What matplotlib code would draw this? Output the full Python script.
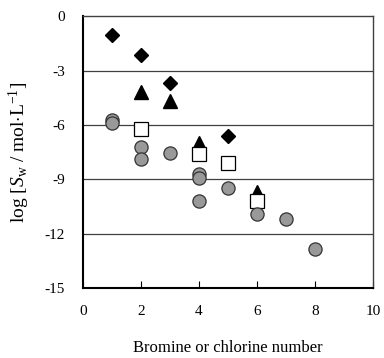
import matplotlib.pyplot as plt

# data
dia_x = [1, 2, 3, 5]
dia_y = [-1.05, -2.15, -3.71, -6.63]

tri_x = [2, 3, 4, 6]
tri_y = [-4.17, -4.69, -7.02, -9.69]

sq_x = [2, 4, 5, 6]
sq_y = [-6.2, -7.58, -8.09, -10.19]

circ_x = [1, 1, 2, 2, 3, 4, 4, 4, 5, 6, 7, 8]
circ_y = [-5.75, -5.92, -7.21, -7.89, -7.52, -8.73, -8.92, -10.19, -9.5, -10.92, -11.21, -12.85]

xticks = [0, 2, 4, 6, 8, 10]
yticks = [0, -3, -6, -9, -12, -15]

plt.rcParams['font.family'] = ['Liberation Serif', 'DejaVu Serif']
plt.rcParams['mathtext.fontset'] = 'custom'
plt.rcParams['mathtext.rm'] = 'Liberation Serif'
plt.rcParams['mathtext.it'] = 'Liberation Serif:italic'

fig = plt.figure(figsize=(3.84, 3.58), dpi=100)
ax = fig.add_axes([0.216, 0.195, 0.755, 0.76])

for yv in [-3, -6, -9, -12]:
    ax.axhline(yv, color='#404040', lw=0.9, zorder=1)

ax.plot(dia_x, dia_y, 'D', color='black', ms=7.5, ls='none', zorder=3)
ax.plot(tri_x, tri_y, '^', color='black', ms=9.5, ls='none', zorder=3)
ax.plot(sq_x, sq_y, 's', mfc='white', mec='black', mew=0.9, ms=9.5, ls='none', zorder=4)
ax.plot(circ_x, circ_y, 'o', mfc='#999999', mec='#333333', mew=0.9, ms=9.5, ls='none', zorder=5)

ax.set_xlim(0, 10)
ax.set_ylim(-15, 0)
ax.set_xticks(xticks)
ax.set_yticks(yticks)
ax.set_xticklabels([str(t) for t in xticks])
ax.set_yticklabels([str(t) for t in yticks])
ax.tick_params(axis='x', direction='in', length=5, pad=12, labelsize=11)
ax.tick_params(axis='y', direction='out', length=0, pad=13, labelsize=11)

for s in ['left', 'bottom']:
    ax.spines[s].set_color('black')
    ax.spines[s].set_linewidth(1.5)
for s in ['top', 'right']:
    ax.spines[s].set_color('#404040')
    ax.spines[s].set_linewidth(1.0)

ax.set_xlabel('Bromine or chlorine number', fontsize=12, labelpad=16)
ax.set_ylabel(r'log [$S_{\mathrm{w}}$ / mol$\cdot$L$^{\mathrm{-1}}$]', fontsize=14, labelpad=9)

fig.savefig('out.png', dpi=100)
